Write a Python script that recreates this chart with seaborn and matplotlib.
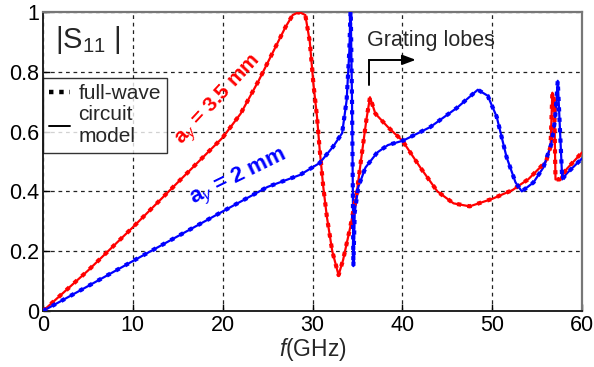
import numpy as np
import pandas as pd
import matplotlib
matplotlib.use("Agg")
import matplotlib.pyplot as plt
from matplotlib.lines import Line2D
import seaborn as sns

# ---- data ----
red_f = [0, 5, 10, 15, 20, 22, 24, 25, 26, 27, 27.8, 28.5, 29.2, 29.7, 30.1, 30.5,
         30.8, 31.2, 31.6, 32.2, 32.9, 33.4, 34.2, 34.9, 35.6, 36.0, 36.4, 37.0,
         38.4, 40, 42, 43.9, 45.7, 47.5, 50, 52.3, 53, 54, 55, 56, 56.5, 56.7,
         56.9, 57.05, 57.5, 58.3, 60]
red_s = [0, 0.135, 0.28, 0.43, 0.58, 0.66, 0.77, 0.83, 0.89, 0.95, 0.99, 1.0, 0.99,
         0.9, 0.76, 0.65, 0.54, 0.415, 0.315, 0.2, 0.12, 0.17, 0.28, 0.39, 0.55,
         0.64, 0.715, 0.66, 0.615, 0.57, 0.48, 0.40, 0.36, 0.35, 0.375, 0.405,
         0.42, 0.44, 0.47, 0.50, 0.55, 0.73, 0.70, 0.44, 0.44, 0.475, 0.53]

blue_f = [0, 5, 10, 15, 20, 25, 28.6, 30.8, 32.3, 33.3, 33.8, 34.1, 34.25, 34.4,
          34.5, 34.55, 34.7, 35.1, 35.9, 37.2, 38.4, 40.1, 43.1, 46.1, 48.4, 49.5,
          50.5, 51.6, 52.6, 53.3, 54.6, 55.7, 56.6, 57.0, 57.3, 57.8, 58.3, 60]
blue_s = [0, 0.083, 0.167, 0.25, 0.333, 0.415, 0.455, 0.495, 0.55, 0.595, 0.705,
          0.87, 1.02, 0.7, 0.37, 0.15, 0.33, 0.415, 0.48, 0.53, 0.555, 0.57, 0.615,
          0.68, 0.74, 0.72, 0.65, 0.515, 0.43, 0.40, 0.43, 0.48, 0.56, 0.64, 0.77,
          0.44, 0.46, 0.51]

x_ticks = [0, 10, 20, 30, 40, 50, 60]
y_ticks = [0, 0.2, 0.4, 0.6, 0.8, 1]
y_tick_labels = ["0", "0.2", "0.4", "0.6", "0.8", "1"]

sns.set_style("white")
plt.rcParams["font.family"] = ["Liberation Sans", "DejaVu Sans"]
plt.rcParams["mathtext.fontset"] = "custom"
plt.rcParams["mathtext.rm"] = "Liberation Sans"
plt.rcParams["mathtext.it"] = "Liberation Sans:italic"
plt.rcParams["mathtext.bf"] = "Liberation Sans:bold"

red_df = pd.DataFrame({"f": red_f, "s": red_s})
blue_df = pd.DataFrame({"f": blue_f, "s": blue_s})

fig = plt.figure(figsize=(5.94, 3.67), dpi=100)
ax = fig.add_axes([43 / 594, 1 - 311 / 367, 539 / 594, 299 / 367])

RED = "#ff0000"
BLUE = "#0000ff"

# circuit model (solid)
sns.lineplot(data=red_df, x="f", y="s", ax=ax, color=RED, lw=1.6, sort=False,
             estimator=None, zorder=3)
sns.lineplot(data=blue_df, x="f", y="s", ax=ax, color=BLUE, lw=1.6, sort=False,
             estimator=None, zorder=3)
# full-wave (dotted)
sns.lineplot(data=red_df, x="f", y="s", ax=ax, color=RED, lw=3.0, sort=False,
             estimator=None, linestyle=(0, (1, 1.5)), zorder=4)
sns.lineplot(data=blue_df, x="f", y="s", ax=ax, color=BLUE, lw=3.0, sort=False,
             estimator=None, linestyle=(0, (1, 1.5)), zorder=4)

ax.set_xlim(0, 60)
ax.set_ylim(0, 1)
ax.set_xticks(x_ticks)
ax.set_xticklabels([str(t) for t in x_ticks])
ax.set_yticks(y_ticks)
ax.set_yticklabels(y_tick_labels)
ax.tick_params(direction="in", length=5, width=1, labelsize=15.5, pad=3,
               colors="black", top=False, right=False, bottom=True, left=True)
ax.grid(True, color="#222222", linestyle=(0, (3, 3)), linewidth=0.9)
for side in ["left", "bottom"]:
    ax.spines[side].set_color("#222222")
    ax.spines[side].set_linewidth(1.4)
for side in ["top", "right"]:
    ax.spines[side].set_color("#777777")
    ax.spines[side].set_linewidth(1.6)

ax.set_xlabel("$f$(GHz)", fontsize=16.5, labelpad=0)
ax.set_ylabel("")

# legend
handles = [Line2D([], [], color="black", lw=3.2, linestyle=(0, (1, 1.3))),
           Line2D([], [], color="black", lw=1.4)]
leg = ax.legend(handles, ["full-wave", "circuit\nmodel"], loc="upper left",
                bbox_to_anchor=(0.0, 0.779), fontsize=15, frameon=True,
                fancybox=False, handlelength=1.0, handletextpad=0.4,
                borderpad=0.3, labelspacing=0.1, borderaxespad=0.0)
leg.get_frame().set_edgecolor("black")
leg.get_frame().set_linewidth(1.0)

# annotations
ax.text(1.3, 0.905, "|S$_{11}$ |", fontsize=21, ha="left", va="center")
ax.text(19.6, 0.705, "a$_y$ = 3.5 mm", color=RED, fontsize=15, fontweight="bold",
        rotation=47, ha="center", va="center", rotation_mode="anchor")
ax.text(21.8, 0.445, "a$_y$ = 2 mm", color=BLUE, fontsize=16, fontweight="bold",
        rotation=26, ha="center", va="center", rotation_mode="anchor")
ax.text(36.1, 0.906, "Grating lobes", fontsize=15.5, ha="left", va="center")
ax.plot([36.3, 36.3, 40.2], [0.755, 0.84, 0.84], color="black", lw=1.4,
        solid_joinstyle="miter", zorder=5)
ax.annotate("", xy=(41.5, 0.84), xytext=(40.0, 0.84),
            arrowprops=dict(arrowstyle="-|>,head_length=0.8,head_width=0.3",
                            color="black", lw=1.4, shrinkA=0, shrinkB=0), zorder=5)

fig.savefig("out.png", dpi=100)
